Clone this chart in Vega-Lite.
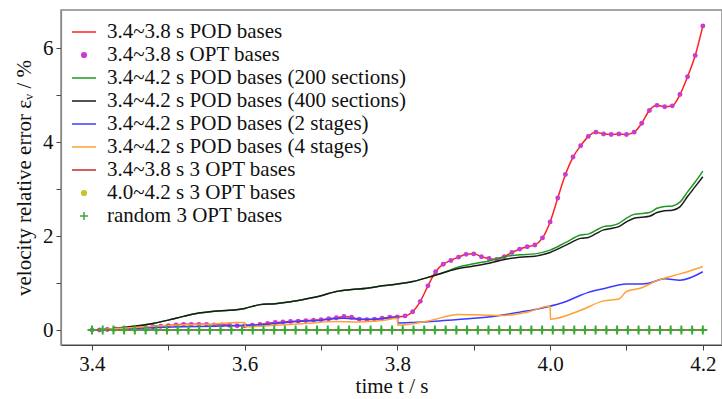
{
  "$schema": "https://vega.github.io/schema/vega-lite/v6.json",
  "autosize": "none",
  "width": 661,
  "height": 335,
  "padding": {"left": 61, "top": 10, "right": 0, "bottom": 54},
  "background": "white",
  "config": {
    "font": "Liberation Serif",
    "view": {"stroke": "#888", "strokeWidth": 1.5},
    "axis": {
      "labelFont": "Liberation Serif",
      "titleFont": "Liberation Serif",
      "labelFontSize": 21,
      "titleFontSize": 21,
      "titleFontWeight": "normal",
      "labelColor": "#111",
      "titleColor": "#111",
      "grid": false,
      "tickColor": "#444",
      "domainColor": "#444",
      "tickSize": 5,
      "domainWidth": 1.2
    },
    "legend": {
      "labelFont": "Liberation Serif",
      "labelFontSize": 21,
      "labelColor": "#111",
      "labelLimit": 500,
      "padding": 0,
      "rowPadding": -1.6,
      "symbolSize": 576,
      "labelOffset": 10,
      "symbolStrokeWidth": 1.5
    }
  },
  "datasets": {
    "red": [
      {"t":3.40,"v":0.00},{"t":3.41,"v":0.00},{"t":3.42,"v":0.01},{"t":3.43,"v":0.02},{"t":3.44,"v":0.03},
      {"t":3.45,"v":0.04},{"t":3.46,"v":0.05},{"t":3.47,"v":0.06},{"t":3.48,"v":0.07},{"t":3.49,"v":0.08},
      {"t":3.50,"v":0.09},{"t":3.51,"v":0.11},{"t":3.52,"v":0.12},{"t":3.53,"v":0.12},{"t":3.54,"v":0.12},
      {"t":3.55,"v":0.12},{"t":3.56,"v":0.11},{"t":3.57,"v":0.11},{"t":3.58,"v":0.10},{"t":3.59,"v":0.09},
      {"t":3.60,"v":0.09},{"t":3.61,"v":0.10},{"t":3.62,"v":0.12},{"t":3.63,"v":0.14},{"t":3.64,"v":0.16},
      {"t":3.65,"v":0.17},{"t":3.66,"v":0.18},{"t":3.67,"v":0.19},{"t":3.68,"v":0.20},{"t":3.69,"v":0.21},
      {"t":3.70,"v":0.22},{"t":3.71,"v":0.24},{"t":3.72,"v":0.26},{"t":3.73,"v":0.29},{"t":3.74,"v":0.27},
      {"t":3.75,"v":0.23},{"t":3.76,"v":0.22},{"t":3.77,"v":0.23},{"t":3.78,"v":0.25},{"t":3.79,"v":0.27},
      {"t":3.80,"v":0.28},{"t":3.81,"v":0.30},{"t":3.82,"v":0.39},{"t":3.83,"v":0.61},{"t":3.84,"v":0.94},
      {"t":3.85,"v":1.24},{"t":3.86,"v":1.40},{"t":3.87,"v":1.48},{"t":3.88,"v":1.55},{"t":3.89,"v":1.61},
      {"t":3.90,"v":1.62},{"t":3.91,"v":1.56},{"t":3.92,"v":1.52},{"t":3.93,"v":1.50},{"t":3.94,"v":1.56},
      {"t":3.95,"v":1.65},{"t":3.96,"v":1.72},{"t":3.97,"v":1.77},{"t":3.98,"v":1.81},{"t":3.99,"v":1.96},
      {"t":4.00,"v":2.30},{"t":4.01,"v":2.81},{"t":4.02,"v":3.31},{"t":4.03,"v":3.68},{"t":4.04,"v":3.92},
      {"t":4.05,"v":4.12},{"t":4.06,"v":4.21},{"t":4.07,"v":4.17},{"t":4.08,"v":4.16},{"t":4.09,"v":4.17},
      {"t":4.10,"v":4.16},{"t":4.11,"v":4.21},{"t":4.12,"v":4.40},{"t":4.13,"v":4.67},{"t":4.14,"v":4.78},
      {"t":4.15,"v":4.75},{"t":4.16,"v":4.77},{"t":4.17,"v":5.01},{"t":4.18,"v":5.39},{"t":4.19,"v":5.84},
      {"t":4.20,"v":6.47}
    ],
    "green": [
      {"t":3.40,"v":0.00},{"t":3.42,"v":0.02},{"t":3.44,"v":0.05},{"t":3.46,"v":0.09},{"t":3.48,"v":0.14},
      {"t":3.50,"v":0.21},{"t":3.52,"v":0.29},{"t":3.54,"v":0.36},{"t":3.56,"v":0.40},{"t":3.58,"v":0.42},
      {"t":3.60,"v":0.46},{"t":3.62,"v":0.54},{"t":3.64,"v":0.56},{"t":3.66,"v":0.60},{"t":3.68,"v":0.66},
      {"t":3.70,"v":0.73},{"t":3.72,"v":0.82},{"t":3.74,"v":0.86},{"t":3.76,"v":0.89},{"t":3.78,"v":0.94},
      {"t":3.80,"v":0.98},{"t":3.82,"v":1.03},{"t":3.84,"v":1.12},{"t":3.86,"v":1.22},{"t":3.88,"v":1.34},
      {"t":3.90,"v":1.41},{"t":3.92,"v":1.47},{"t":3.94,"v":1.56},{"t":3.96,"v":1.60},{"t":3.98,"v":1.62},
      {"t":4.00,"v":1.70},{"t":4.02,"v":1.86},{"t":4.04,"v":2.02},{"t":4.05,"v":2.04},{"t":4.06,"v":2.12},
      {"t":4.07,"v":2.20},{"t":4.08,"v":2.22},{"t":4.09,"v":2.27},{"t":4.10,"v":2.38},{"t":4.11,"v":2.46},
      {"t":4.12,"v":2.48},{"t":4.13,"v":2.50},{"t":4.14,"v":2.59},{"t":4.15,"v":2.63},{"t":4.16,"v":2.64},
      {"t":4.17,"v":2.72},{"t":4.18,"v":2.94},{"t":4.19,"v":3.15},{"t":4.20,"v":3.38}
    ],
    "black": [
      {"t":3.40,"v":0.00},{"t":3.42,"v":0.02},{"t":3.44,"v":0.05},{"t":3.46,"v":0.09},{"t":3.48,"v":0.14},
      {"t":3.50,"v":0.21},{"t":3.52,"v":0.29},{"t":3.54,"v":0.36},{"t":3.56,"v":0.40},{"t":3.58,"v":0.42},
      {"t":3.60,"v":0.46},{"t":3.62,"v":0.54},{"t":3.64,"v":0.56},{"t":3.66,"v":0.60},{"t":3.68,"v":0.66},
      {"t":3.70,"v":0.73},{"t":3.72,"v":0.82},{"t":3.74,"v":0.86},{"t":3.76,"v":0.89},{"t":3.78,"v":0.94},
      {"t":3.80,"v":0.98},{"t":3.82,"v":1.03},{"t":3.84,"v":1.12},{"t":3.86,"v":1.22},{"t":3.88,"v":1.31},
      {"t":3.90,"v":1.36},{"t":3.92,"v":1.42},{"t":3.94,"v":1.50},{"t":3.96,"v":1.55},{"t":3.98,"v":1.57},
      {"t":4.00,"v":1.65},{"t":4.02,"v":1.80},{"t":4.04,"v":1.95},{"t":4.05,"v":1.97},{"t":4.06,"v":2.05},
      {"t":4.07,"v":2.13},{"t":4.08,"v":2.16},{"t":4.09,"v":2.20},{"t":4.10,"v":2.30},{"t":4.11,"v":2.38},
      {"t":4.12,"v":2.40},{"t":4.13,"v":2.42},{"t":4.14,"v":2.50},{"t":4.15,"v":2.54},{"t":4.16,"v":2.55},
      {"t":4.17,"v":2.62},{"t":4.18,"v":2.84},{"t":4.19,"v":3.05},{"t":4.20,"v":3.26}
    ],
    "blue": [
      {"t":3.40,"v":0.00},{"t":3.44,"v":0.03},{"t":3.48,"v":0.05},{"t":3.52,"v":0.07},{"t":3.56,"v":0.08},
      {"t":3.60,"v":0.10},{"t":3.63,"v":0.12},{"t":3.66,"v":0.17},{"t":3.70,"v":0.21},{"t":3.73,"v":0.25},
      {"t":3.75,"v":0.23},{"t":3.77,"v":0.23},{"t":3.79,"v":0.26},{"t":3.800,"v":0.28},{"t":3.8005,"v":0.15},
      {"t":3.82,"v":0.16},{"t":3.86,"v":0.20},{"t":3.90,"v":0.25},{"t":3.93,"v":0.30},{"t":3.96,"v":0.38},
      {"t":3.99,"v":0.47},{"t":4.02,"v":0.60},{"t":4.04,"v":0.74},{"t":4.05,"v":0.80},{"t":4.07,"v":0.88},
      {"t":4.10,"v":0.98},{"t":4.12,"v":0.98},{"t":4.13,"v":1.00},{"t":4.15,"v":1.09},{"t":4.17,"v":1.06},
      {"t":4.20,"v":1.24}
    ],
    "orange": [
      {"t":3.40,"v":0.00},{"t":3.44,"v":0.04},{"t":3.48,"v":0.08},{"t":3.52,"v":0.11},{"t":3.56,"v":0.13},
      {"t":3.59,"v":0.16},{"t":3.600,"v":0.16},{"t":3.6005,"v":0.07},{"t":3.64,"v":0.10},{"t":3.68,"v":0.14},
      {"t":3.72,"v":0.18},{"t":3.75,"v":0.17},{"t":3.78,"v":0.20},{"t":3.800,"v":0.25},{"t":3.8005,"v":0.10},
      {"t":3.84,"v":0.19},{"t":3.88,"v":0.33},{"t":3.91,"v":0.32},{"t":3.94,"v":0.31},{"t":3.97,"v":0.38},
      {"t":4.000,"v":0.51},{"t":4.0005,"v":0.23},{"t":4.04,"v":0.42},{"t":4.07,"v":0.62},{"t":4.09,"v":0.66},
      {"t":4.10,"v":0.82},{"t":4.12,"v":0.90},{"t":4.14,"v":1.05},{"t":4.16,"v":1.15},{"t":4.18,"v":1.24},
      {"t":4.20,"v":1.35}
    ],
    "darkred": [
      {"t":3.40,"v":0},{"t":3.60,"v":0},{"t":3.80,"v":0},{"t":4.00,"v":0},{"t":4.20,"v":0}
    ],
    "zero": [
      {"t":3.4,"v":0},{"t":3.4140,"v":0},{"t":3.4281,"v":0},{"t":3.4421,"v":0},{"t":3.4561,"v":0},
      {"t":3.4702,"v":0},{"t":3.4842,"v":0},{"t":3.4982,"v":0},{"t":3.5123,"v":0},{"t":3.5263,"v":0},
      {"t":3.5404,"v":0},{"t":3.5544,"v":0},{"t":3.5684,"v":0},{"t":3.5825,"v":0},{"t":3.5965,"v":0},
      {"t":3.6105,"v":0},{"t":3.6246,"v":0},{"t":3.6386,"v":0},{"t":3.6526,"v":0},{"t":3.6667,"v":0},
      {"t":3.6807,"v":0},{"t":3.6947,"v":0},{"t":3.7088,"v":0},{"t":3.7228,"v":0},{"t":3.7368,"v":0},
      {"t":3.7509,"v":0},{"t":3.7649,"v":0},{"t":3.7789,"v":0},{"t":3.7930,"v":0},{"t":3.8070,"v":0},
      {"t":3.8211,"v":0},{"t":3.8351,"v":0},{"t":3.8491,"v":0},{"t":3.8632,"v":0},{"t":3.8772,"v":0},
      {"t":3.8912,"v":0},{"t":3.9053,"v":0},{"t":3.9193,"v":0},{"t":3.9333,"v":0},{"t":3.9474,"v":0},
      {"t":3.9614,"v":0},{"t":3.9754,"v":0},{"t":3.9895,"v":0},{"t":4.0035,"v":0},{"t":4.0175,"v":0},
      {"t":4.0316,"v":0},{"t":4.0456,"v":0},{"t":4.0596,"v":0},{"t":4.0737,"v":0},{"t":4.0877,"v":0},
      {"t":4.1018,"v":0},{"t":4.1158,"v":0},{"t":4.1298,"v":0},{"t":4.1439,"v":0},{"t":4.1579,"v":0},
      {"t":4.1719,"v":0},{"t":4.1860,"v":0},{"t":4.2,"v":0}
    ]
  },
  "encoding": {
    "x": {
      "field": "t", "type": "quantitative",
      "scale": {"domain": [3.3594, 4.2251], "nice": false, "zero": false},
      "axis": {
        "title": "time t / s",
        "values": [3.4, 3.5, 3.6, 3.7, 3.8, 3.9, 4.0, 4.1, 4.2],
        "labelExpr": "round(datum.value * 10) % 2 == 0 ? format(datum.value, '.1f') : ''",
        "labelPadding": 3,
        "titlePadding": 1,
        "domain": true
      }
    },
    "y": {
      "field": "v", "type": "quantitative",
      "scale": {"domain": [-0.319, 6.809], "nice": false, "zero": false},
      "axis": {
        "title": "velocity relative error εᵥ / %",
        "values": [0, 1, 2, 3, 4, 5, 6],
        "labelExpr": "datum.value % 2 == 0 ? datum.label : ''",
        "labelPadding": 3,
        "titlePadding": 8,
        "domainColor": "#888"
      }
    }
  },
  "layer": [
    {
      "data": {"name": "red"},
      "mark": {"type": "line", "interpolate": "monotone", "strokeWidth": 1.5},
      "encoding": {
        "color": {
          "datum": "3.4~3.8 s POD bases",
          "type": "nominal",
          "scale": {
            "domain": ["3.4~3.8 s POD bases", "3.4~3.8 s OPT bases", "3.4~4.2 s POD bases (200 sections)", "3.4~4.2 s POD bases (400 sections)", "3.4~4.2 s POD bases (2 stages)", "3.4~4.2 s POD bases (4 stages)", "3.4~3.8 s 3 OPT bases", "4.0~4.2 s 3 OPT bases", "random 3 OPT bases"],
            "range": ["#ff2020", "#c83ccf", "#1e9a1e", "#1a1a1a", "#3b3bff", "#ffa133", "#c8282a", "#c6c62a", "#3aa83a"]
          },
          "legend": {
            "title": null,
            "orient": "none",
            "legendX": 10,
            "legendY": 9,
            "symbolStrokeWidth": 1.5,
            "encode": {
              "symbols": {
                "update": {
                  "shape": {"signal": "(datum.value === '3.4~3.8 s OPT bases' || datum.value === '4.0~4.2 s 3 OPT bases') ? 'circle' : (datum.value === 'random 3 OPT bases' ? 'M-1,0L1,0M0,-1L0,1' : 'stroke')"},
                  "size": {"signal": "(datum.value === '3.4~3.8 s OPT bases' || datum.value === '4.0~4.2 s 3 OPT bases') ? 22 : (datum.value === 'random 3 OPT bases' ? 64 : 576)"},
                  "fill": {"signal": "(datum.value === '3.4~3.8 s OPT bases' || datum.value === '4.0~4.2 s 3 OPT bases') ? scale('color', datum.value) : 'transparent'"},
                  "stroke": {"signal": "(datum.value === '3.4~3.8 s OPT bases' || datum.value === '4.0~4.2 s 3 OPT bases') ? 'transparent' : scale('color', datum.value)"},
                  "strokeWidth": {"value": 1.5},
                  "opacity": {"value": 1}
                }
              }
            }
          }
        }
      }
    },
    {
      "data": {"name": "red"},
      "mark": {"type": "point", "filled": true, "size": 24, "opacity": 1},
      "encoding": {"color": {"datum": "3.4~3.8 s OPT bases", "type": "nominal"}}
    },
    {
      "data": {"name": "green"},
      "mark": {"type": "line", "interpolate": "monotone", "strokeWidth": 1.5},
      "encoding": {"color": {"datum": "3.4~4.2 s POD bases (200 sections)", "type": "nominal"}}
    },
    {
      "data": {"name": "black"},
      "mark": {"type": "line", "interpolate": "monotone", "strokeWidth": 1.5},
      "encoding": {"color": {"datum": "3.4~4.2 s POD bases (400 sections)", "type": "nominal"}}
    },
    {
      "data": {"name": "blue"},
      "mark": {"type": "line", "interpolate": "monotone", "strokeWidth": 1.5},
      "encoding": {"color": {"datum": "3.4~4.2 s POD bases (2 stages)", "type": "nominal"}}
    },
    {
      "data": {"name": "orange"},
      "mark": {"type": "line", "interpolate": "monotone", "strokeWidth": 1.5},
      "encoding": {"color": {"datum": "3.4~4.2 s POD bases (4 stages)", "type": "nominal"}}
    },
    {
      "data": {"name": "darkred"},
      "mark": {"type": "line", "strokeWidth": 1.5},
      "encoding": {"color": {"datum": "3.4~3.8 s 3 OPT bases", "type": "nominal"}}
    },
    {
      "data": {"name": "zero"},
      "mark": {"type": "point", "filled": true, "size": 16, "opacity": 1},
      "encoding": {"color": {"datum": "4.0~4.2 s 3 OPT bases", "type": "nominal"}}
    },
    {
      "data": {"name": "zero"},
      "mark": {"type": "point", "filled": false, "shape": "M-1,0L1,0M0,-1L0,1", "size": 80, "strokeWidth": 2, "opacity": 1},
      "encoding": {"color": {"datum": "random 3 OPT bases", "type": "nominal"}}
    }
  ]
}
